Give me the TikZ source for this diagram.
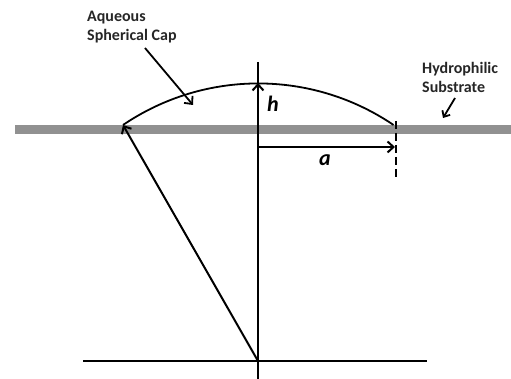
\documentclass[tikz,border=0pt]{standalone}
\usepackage{fontspec}
\setmainfont{Carlito}
\usetikzlibrary{arrows.meta}
\definecolor{bargray}{RGB}{145,145,145}
\tikzset{
  thinline/.style={line width=1.2pt, black},
  thickarrow/.style={line width=2pt, black, -{Straight Barb[length=6pt,width=11pt,line width=2pt]}},
  label/.style={font=\fontsize{16}{19}\selectfont\bfseries, align=left, anchor=west, inner sep=0pt, text=black!85},
  varlabel/.style={font=\fontsize{22}{22}\selectfont\bfseries\itshape, inner sep=0pt}
}
\begin{document}
\begin{tikzpicture}[x=1pt,y=1pt]
\useasboundingbox (0,0) rectangle (511,379);
% coordinates
\coordinate (O) at (258,18);
\coordinate (L) at (123,254);
\coordinate (T) at (258,296);
\coordinate (R) at (396,254);
\coordinate (barL) at (15,249.5);
\coordinate (barR) at (511,249.5);
\coordinate (axTop) at (258,317);
\coordinate (axBot) at (258,0);
\coordinate (baseL) at (83,18);
\coordinate (baseR) at (427,18);
\coordinate (hS) at (258,250);
\coordinate (aS) at (258,232);
\coordinate (aE) at (395,232);
\coordinate (dT) at (396,258);
\coordinate (dB) at (396,199);
% substrate
\draw[bargray, line width=9pt] (barL) -- (barR);
% axes
\draw[thinline] (axTop) -- (axBot);
\draw[thinline] (baseL) -- (baseR);
% cap arc
\draw[line width=1.8pt] (L) arc[start angle=124.15, end angle=55.85, radius=241];
% arrows
\draw[thickarrow] (O) -- (L);
\draw[thickarrow] (hS) -- (T);
\draw[thickarrow] (aS) -- (aE);
\draw[line width=2pt, dash pattern=on 8pt off 4pt] (dT) -- (dB);
% labels
\node[varlabel] (h) at (273,275) {h};
\node[varlabel] (a) at (325,219) {a};
\node[label] (cap) at (87,352) {Aqueous\\Spherical Cap};
\node[label] (sub) at (422,301.5) {Hydrophilic\\Substrate};
\coordinate (capS) at (145,331);
\coordinate (capE) at (193,274);
\coordinate (subS) at (455,281);
\coordinate (subE) at (443,261);
\draw[line width=1.8pt, -{Straight Barb[length=6pt,width=11pt,line width=1.8pt]}] (capS) -- (capE);
\draw[line width=1.8pt, -{Straight Barb[length=5pt,width=9pt,line width=1.8pt]}] (subS) -- (subE);
\end{tikzpicture}
\end{document}
